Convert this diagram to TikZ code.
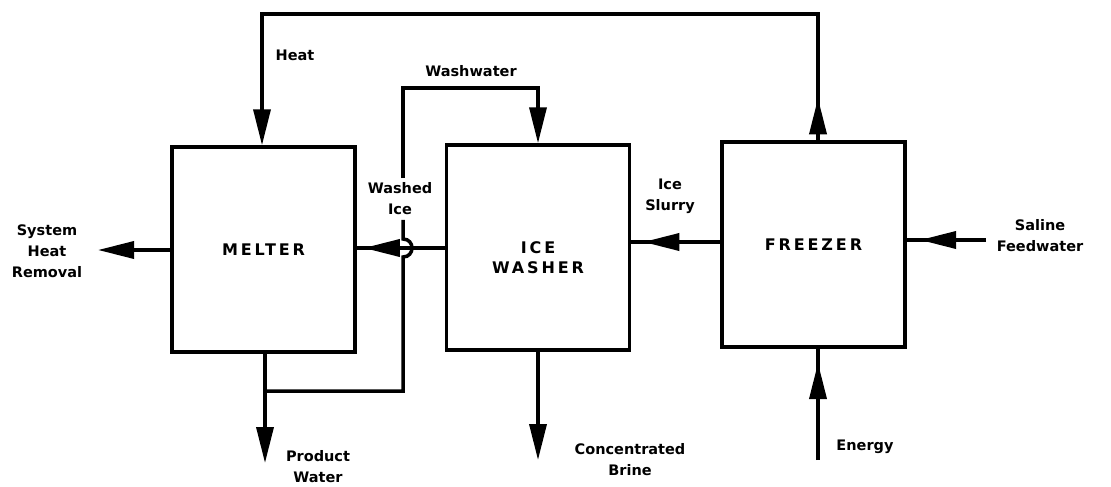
\documentclass[tikz,border=0pt]{standalone}
\usepackage{fontspec}
\newfontfamily\lblfont{DejaVu Sans}
\newfontfamily\boxfont{DejaVu Sans}[LetterSpace=18]
\usetikzlibrary{arrows.meta,decorations.markings}
\begin{document}
\begin{tikzpicture}[x=1pt,y=-1pt,line width=3.5pt,
  unit/.style={draw,line width=3.5pt,minimum width=183pt,minimum height=205pt,inner sep=0pt,
    font=\boxfont\bfseries\fontsize{16}{20}\selectfont,align=center},
  boxtxt/.style={font=\boxfont\bfseries\fontsize{16}{20}\selectfont,align=center,inner sep=0pt},
  lbl/.style={font=\lblfont\bfseries\fontsize{14.5}{21}\selectfont,align=center,inner sep=0pt},
  tip/.style={-{Triangle[length=36pt,width=17pt]}},
  midtip/.style={postaction={decorate},decoration={markings,
    mark=at position #1 with {\arrow{Triangle[length=36pt,width=17pt]}}}}
]
\useasboundingbox (0,0) rectangle (1111,487);
% units
\node[unit] (melter) at (263.5,249.5) {MELTER};
\node[unit] (washer) at (538,247.5) {};
\node[boxtxt] (washertxt) at (538,258) {ICE\\WASHER};
\node[unit] (freezer) at (813.5,244.5) {FREEZER};
% labels
\node[lbl] (heat) at (295,55) {Heat};
\node[lbl] (wwlbl) at (471,71) {Washwater};
\node[lbl,inner sep=3pt] (washed) at (400,199) {Washed\\Ice};
\node[lbl] (slurry) at (670,196) {Ice\\Slurry};
\node[lbl] (saline) at (1040,236) {Saline\\Feedwater};
\node[lbl] (shrlbl) at (47,251) {System\\Heat\\Removal};
\node[lbl] (prodlbl) at (318,467) {Product\\Water};
\node[lbl] (brinelbl) at (630,460) {Concentrated\\Brine};
\node[lbl] (energylbl) at (865,447) {Energy};
% coordinates
\coordinate (topL) at (262,14);
\coordinate (topR) at (818,14);
\coordinate (energyS) at (818,460);
\coordinate (salineE) at (986,240);
\coordinate (slurryY) at (0,242);
\coordinate (washedY) at (0,248);
\coordinate (shr) at (98,250);
\coordinate (prodS) at (265,463);
\coordinate (brineS) at (538,460);
\coordinate (junc) at (265,391);
\coordinate (hopB) at (403,257);
\coordinate (hopT) at (403,239);
\coordinate (wwL) at (403,88);
% heat loop
\draw[tip,midtip=42pt] (freezer.north -| topR) -- (topR) -- (topL) -- (melter.north -| topL);
% energy
\draw[midtip=97pt] (energyS) -- (freezer.south -| energyS);
% saline feed
\draw[midtip=66pt] (salineE) -- (freezer.east |- salineE);
% ice slurry
\draw[midtip=77pt] (freezer.west |- slurryY) -- (washer.east |- slurryY);
% washed ice
\draw[midtip=81pt] (washer.west |- washedY) -- (melter.east |- washedY);
% system heat removal
\draw[tip] (melter.west |- shr) -- (shr);
% product water
\draw[tip] (melter.south -| prodS) -- (prodS);
% brine
\draw[tip] (washer.south) -- (brineS);
% washwater
\draw (junc) -- (junc -| hopB) -- (hopB) .. controls (415,257) and (415,239) .. (hopT) -- (washed.south -| hopT);
\draw[tip] (washed.north -| wwL) -- (wwL) -| (washer.north);
\end{tikzpicture}
\end{document}
